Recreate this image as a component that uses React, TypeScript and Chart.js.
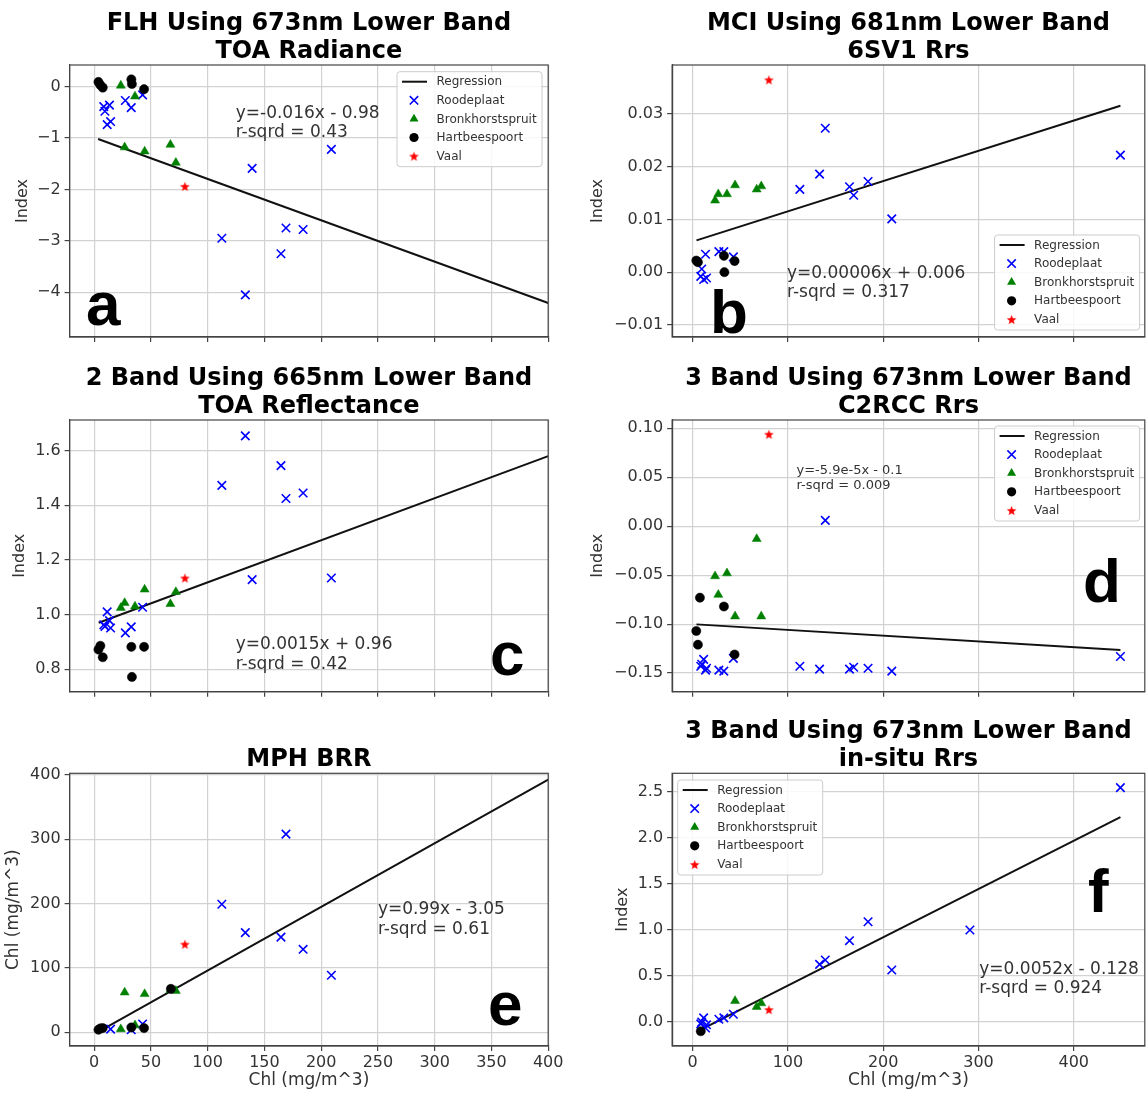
import React, { useEffect, useRef } from 'react';
import { Chart, registerables } from 'chart.js';

Chart.register(...registerables);

type Pt = [number, number];

// ---------- a: FLH, 673nm lower band, TOA radiance ----------
const aRoodeplaat: Pt[] = [
  [8.5, -0.39], [9.5, -0.48], [11.5, -0.74], [13.5, -0.36], [14.5, -0.68], [27.5, -0.27],
  [32.7, -0.41], [42.7, -0.16], [112.5, -2.95], [133.2, -4.05], [139.2, -1.59], [164.6, -3.25],
  [169, -2.75], [184.1, -2.78], [209, -1.22],
];
const aBronkhorstspruit: Pt[] = [[23.5, 0.02], [26.9, -1.18], [36, -0.19], [44.5, -1.26], [67.2, -1.13], [72, -1.48]];
const aHartbeespoort: Pt[] = [[3.8, 0.09], [5.5, 0.03], [7.6, -0.02], [32.8, 0.14], [33.3, 0.05], [44, -0.05]];
const aVaal: Pt[] = [[80, -1.94]];
const aRegression: Pt[] = [[3.5, -1.02], [400, -4.21]];
const aEquation = ['y=-0.016x - 0.98', 'r-sqrd = 0.43'];
const aYTicks = [-4, -3, -2, -1, 0];

// ---------- b: MCI, 681nm lower band, 6SV1 Rrs ----------
const bRoodeplaat: Pt[] = [
  [8.5, -0.0008], [9.5, 0.0006], [11.5, -0.0014], [13.5, 0.0034], [14.5, -0.0011], [27.5, 0.0039],
  [32.7, 0.0039], [42.7, 0.0029], [112.5, 0.0157], [133.2, 0.0186], [139.2, 0.0273], [164.6, 0.0162],
  [169, 0.0146], [184.1, 0.0172], [209, 0.0101], [449, 0.0222],
];
const bBronkhorstspruit: Pt[] = [[23.5, 0.0136], [26.9, 0.0148], [36, 0.0148], [44.5, 0.0165], [67.2, 0.0157], [72, 0.0163]];
const bHartbeespoort: Pt[] = [[3.8, 0.0022], [5.5, 0.0019], [32.8, 0.0031], [33.3, 0.0], [44, 0.0021]];
const bVaal: Pt[] = [[80, 0.0365]];
const bFit = [0.0000574, 0.0058, 4, 449]; // slope, intercept, x from, x to
const bEquation = ['y=0.00006x + 0.006', 'r-sqrd = 0.317'];
const bYTicks = [-0.01, 0, 0.01, 0.02, 0.03];

// ---------- c: 2 band, 665nm lower band, TOA reflectance ----------
const cRoodeplaat: Pt[] = [
  [8.5, 0.963], [9.5, 0.957], [11.5, 1.01], [13.5, 0.978], [14.5, 0.951], [27.5, 0.933],
  [32.7, 0.955], [42.7, 1.027], [112.5, 1.473], [133.2, 1.654], [139.2, 1.128], [164.6, 1.545],
  [169, 1.425], [184.1, 1.445], [209, 1.134],
];
const cBronkhorstspruit: Pt[] = [[23.5, 1.025], [26.9, 1.043], [36, 1.03], [44.5, 1.092], [67.2, 1.039], [72, 1.083]];
const cHartbeespoort: Pt[] = [[3.8, 0.872], [5.5, 0.886], [7.6, 0.844], [32.8, 0.882], [33.3, 0.772], [44, 0.882]];
const cVaal: Pt[] = [[80, 1.134]];
const cFit = [0.00154, 0.964, 4, 400];
const cEquation = ['y=0.0015x + 0.96', 'r-sqrd = 0.42'];
const cYTicks = [0.8, 1.0, 1.2, 1.4, 1.6];

// ---------- d: 3 band, 673nm lower band, C2RCC Rrs ----------
const dRoodeplaat: Pt[] = [
  [8.5, -0.143], [9.5, -0.141], [11.5, -0.136], [13.5, -0.147], [14.5, -0.145], [27.5, -0.147],
  [32.7, -0.148], [42.7, -0.135], [112.5, -0.143], [133.2, -0.146], [139.2, 0.006], [164.6, -0.146],
  [169, -0.144], [184.1, -0.145], [209, -0.148], [449, -0.133],
];
const dBronkhorstspruit: Pt[] = [[23.5, -0.051], [26.9, -0.07], [36, -0.048], [44.5, -0.092], [67.2, -0.013], [72, -0.092]];
const dHartbeespoort: Pt[] = [[3.8, -0.107], [5.5, -0.121], [7.6, -0.073], [32.8, -0.082], [44, -0.131]];
const dVaal: Pt[] = [[80, 0.094]];
const dFit = [-0.000059, -0.1, 4, 449];
const dEquation = ['y=-5.9e-5x - 0.1', 'r-sqrd = 0.009'];
const dYTicks = [-0.15, -0.1, -0.05, 0, 0.05, 0.1];

// ---------- e: MPH, BRR ----------
const eRoodeplaat: Pt[] = [
  [14.5, 5], [32.7, 4], [42.7, 13], [112.5, 199], [133.2, 155], [164.6, 148], [169, 308],
  [184.1, 129], [209, 88.6],
];
const eBronkhorstspruit: Pt[] = [[23.5, 5], [26.9, 62], [36, 11], [44.5, 59.5], [67.2, 66], [72, 64.5]];
const eHartbeespoort: Pt[] = [[3.8, 4], [5.5, 6], [7.6, 6.5], [32.8, 7.5], [44, 6.5], [67.6, 67.5]];
const eVaal: Pt[] = [[80, 137]];
const eFit = [0.99, -3.05, 4, 400];
const eEquation = ['y=0.99x - 3.05', 'r-sqrd = 0.61'];
const eYTicks = [0, 100, 200, 300, 400];

// ---------- f: 3 band, 673nm lower band, in-situ Rrs ----------
const fRoodeplaat: Pt[] = [
  [8.5, -0.02], [9.5, 0.0], [11.5, 0.045], [13.5, -0.065], [14.5, -0.03], [27.5, 0.03],
  [32.7, 0.045], [42.7, 0.085], [133.2, 0.626], [139.2, 0.673], [164.6, 0.883], [184.1, 1.089],
  [209, 0.565], [291, 0.999], [449, 2.544],
];
const fBronkhorstspruit: Pt[] = [[44.5, 0.23], [67.2, 0.165], [72, 0.205]];
const fHartbeespoort: Pt[] = [[8.5, -0.1]];
const fVaal: Pt[] = [[80, 0.135]];
const fFit = [0.00524, -0.128, 5, 449];
const fEquation = ['y=0.0052x - 0.128', 'r-sqrd = 0.924'];
const fYTicks = [0, 0.5, 1.0, 1.5, 2.0, 2.5];

// shared x axes (in-situ chlorophyll)
const chlTicksLeft = [0, 50, 100, 150, 200, 250, 300, 350, 400];
const chlTicksRight = [0, 100, 200, 300, 400];
const legendLabels = ['Regression', 'Roodeplaat', 'Bronkhorstspruit', 'Hartbeespoort', 'Vaal'];

// ---------- styling ----------
const FONT = '"DejaVu Sans", sans-serif';
const TEXT = '#333333';
const TICK = '#333333';
const GRID = '#d2d2d2';
const FRAME = '#444444';
const BLUE = '#0000ff';
const GREEN = '#008000';
const RED = '#ff0000';

const fitLine = (f: number[]): Pt[] => [
  [f[2], f[0] * f[2] + f[1]],
  [f[3], f[0] * f[3] + f[1]],
];

interface Col { canvasX: number; canvasW: number; plotL: number; plotR: number; yAxisW: number; xLim: [number, number]; xTicks: number[] }
interface Row { canvasY: number; canvasH: number; plotT: number; plotB: number; xAxisH: number }

// left canvases run a little wider so the last x tick label is not cut off
const LEFT: Col = { canvasX: 0, canvasW: 578, plotL: 69.6, plotR: 548.2, yAxisW: 60, xLim: [-21.6, 400], xTicks: chlTicksLeft };
const RIGHT: Col = { canvasX: 560, canvasW: 586, plotL: 112.1, plotR: 584.8, yAxisW: 100, xLim: [-21.6, 474.6], xTicks: chlTicksRight };
const ROW1: Row = { canvasY: 0, canvasH: 355, plotT: 65, plotB: 337, xAxisH: 10 };
const ROW2: Row = { canvasY: 355, canvasH: 355, plotT: 65, plotB: 336.7, xAxisH: 10 };
const ROW3: Row = { canvasY: 710, canvasH: 385, plotT: 63.3, plotB: 336, xAxisH: 34 };

interface Panel {
  key: string; col: Col; row: Row;
  title: string[]; titleBase: number[];
  roode: Pt[]; bronk: Pt[]; hart: Pt[]; vaal: Pt[]; fit: Pt[];
  yLim: [number, number]; yTicks: number[]; yDigits: number;
  xLabels: boolean; xTitle?: string;
  yTitle: string; yTitleX: number; yTitleSize: number;
  eq: string[]; eqPos: [number, number]; eqSize: number;
  letter: string; letterPos: [number, number];
  legendPos?: [number, number];
}

const panels: Panel[] = [
  {
    key: 'a', col: LEFT, row: ROW1, title: ['FLH Using 673nm Lower Band', 'TOA Radiance'], titleBase: [29.5, 58],
    roode: aRoodeplaat, bronk: aBronkhorstspruit, hart: aHartbeespoort, vaal: aVaal, fit: aRegression,
    yLim: [-4.87, 0.42], yTicks: aYTicks, yDigits: 0, xLabels: false,
    yTitle: 'Index', yTitleX: 23.2, yTitleSize: 16,
    eq: aEquation, eqPos: [235.7, 113.3], eqSize: 17,
    letter: 'a', letterPos: [86, 325], legendPos: [397, 71.7],
  },
  {
    key: 'b', col: RIGHT, row: ROW1, title: ['MCI Using 681nm Lower Band', '6SV1 Rrs'], titleBase: [29.5, 58],
    roode: bRoodeplaat, bronk: bBronkhorstspruit, hart: bHartbeespoort, vaal: bVaal, fit: fitLine(bFit),
    yLim: [-0.0123, 0.0393], yTicks: bYTicks, yDigits: 2, xLabels: false,
    yTitle: 'Index', yTitleX: 37.4, yTitleSize: 16,
    eq: bEquation, eqPos: [227, 273.3], eqSize: 17,
    letter: 'b', letterPos: [150, 333], legendPos: [434.6, 235],
  },
  {
    key: 'c', col: LEFT, row: ROW2, title: ['2 Band Using 665nm Lower Band', 'TOA Reflectance'], titleBase: [29.5, 57.5],
    roode: cRoodeplaat, bronk: cBronkhorstspruit, hart: cHartbeespoort, vaal: cVaal, fit: fitLine(cFit),
    yLim: [0.718, 1.712], yTicks: cYTicks, yDigits: 1, xLabels: false,
    yTitle: 'Index', yTitleX: 19.6, yTitleSize: 16,
    eq: cEquation, eqPos: [235.7, 290], eqSize: 17,
    letter: 'c', letterPos: [490, 320],
  },
  {
    key: 'd', col: RIGHT, row: ROW2, title: ['3 Band Using 673nm Lower Band', 'C2RCC Rrs'], titleBase: [29.5, 57.5],
    roode: dRoodeplaat, bronk: dBronkhorstspruit, hart: dHartbeespoort, vaal: dVaal, fit: fitLine(dFit),
    yLim: [-0.169, 0.1085], yTicks: dYTicks, yDigits: 2, xLabels: false,
    yTitle: 'Index', yTitleX: 37.4, yTitleSize: 16,
    eq: dEquation, eqPos: [236.5, 116], eqSize: 13,
    letter: 'd', letterPos: [523, 246.7], legendPos: [434.6, 71],
  },
  {
    key: 'e', col: LEFT, row: ROW3, title: ['MPH BRR'], titleBase: [56],
    roode: eRoodeplaat, bronk: eBronkhorstspruit, hart: eHartbeespoort, vaal: eVaal, fit: fitLine(eFit),
    yLim: [-21.3, 402.6], yTicks: eYTicks, yDigits: 0, xLabels: true, xTitle: 'Chl (mg/m^3)',
    yTitle: 'Chl (mg/m^3)', yTitleX: 13.6, yTitleSize: 17,
    eq: eEquation, eqPos: [377.9, 200], eqSize: 17,
    letter: 'e', letterPos: [488, 315],
  },
  {
    key: 'f', col: RIGHT, row: ROW3, title: ['3 Band Using 673nm Lower Band', 'in-situ Rrs'], titleBase: [28, 56],
    roode: fRoodeplaat, bronk: fBronkhorstspruit, hart: fHartbeespoort, vaal: fVaal, fit: fitLine(fFit),
    yLim: [-0.26, 2.7], yTicks: fYTicks, yDigits: 1, xLabels: true, xTitle: 'Chl (mg/m^3)',
    yTitle: 'Index', yTitleX: 62.8, yTitleSize: 16,
    eq: fEquation, eqPos: [419.3, 259.3], eqSize: 17,
    letter: 'f', letterPos: [528, 201.7], legendPos: [117.7, 70],
  },
];

const fmt = (v: number, d: number) => {
  const s = (Math.abs(v) < 1e-12 ? 0 : v).toFixed(d);
  return s.startsWith('-') ? '\u2212' + s.slice(1) : s;
};

function makeStar(color: string, size: number) {
  const c = document.createElement('canvas');
  c.width = size;
  c.height = size;
  const g = c.getContext('2d')!;
  const R = size / 2 - 0.4;
  const r = R * 0.42;
  const cx = size / 2;
  const cy = size / 2 + 0.5;
  g.beginPath();
  for (let i = 0; i < 10; i++) {
    const ang = -Math.PI / 2 + (i * Math.PI) / 5;
    const rad = i % 2 === 0 ? R : r;
    g.lineTo(cx + rad * Math.cos(ang), cy + rad * Math.sin(ang));
  }
  g.closePath();
  g.fillStyle = color;
  g.fill();
  return c;
}

function drawMarker(ctx: CanvasRenderingContext2D, i: number, x: number, y: number, star: HTMLCanvasElement) {
  ctx.save();
  if (i === 1) {
    const h = 4.2;
    ctx.strokeStyle = BLUE;
    ctx.lineWidth = 1.6;
    ctx.beginPath();
    ctx.moveTo(x - h, y - h); ctx.lineTo(x + h, y + h);
    ctx.moveTo(x - h, y + h); ctx.lineTo(x + h, y - h);
    ctx.stroke();
  } else if (i === 2) {
    const r = 5.2;
    ctx.fillStyle = GREEN;
    ctx.beginPath();
    ctx.moveTo(x, y - r);
    ctx.lineTo(x - r * 0.866, y + r / 2);
    ctx.lineTo(x + r * 0.866, y + r / 2);
    ctx.closePath();
    ctx.fill();
  } else if (i === 3) {
    ctx.fillStyle = '#000';
    ctx.beginPath();
    ctx.arc(x, y, 4.6, 0, Math.PI * 2);
    ctx.fill();
  } else if (i === 4) {
    ctx.drawImage(star, x - star.width / 2, y - star.height / 2);
  }
  ctx.restore();
}

function drawLegend(ctx: CanvasRenderingContext2D, x: number, y: number, star: HTMLCanvasElement) {
  const w = 145;
  const h = 95;
  ctx.save();
  ctx.beginPath();
  if ((ctx as any).roundRect) (ctx as any).roundRect(x, y, w, h, 3);
  else ctx.rect(x, y, w, h);
  ctx.fillStyle = 'rgba(255,255,255,0.85)';
  ctx.fill();
  ctx.strokeStyle = '#cccccc';
  ctx.lineWidth = 1;
  ctx.stroke();
  ctx.font = `12px ${FONT}`;
  ctx.textAlign = 'left';
  ctx.textBaseline = 'middle';
  legendLabels.forEach((name, i) => {
    const ry = y + 10 + i * 18.6;
    if (i === 0) {
      ctx.strokeStyle = '#111';
      ctx.lineWidth = 2;
      ctx.beginPath();
      ctx.moveTo(x + 5, ry);
      ctx.lineTo(x + 30, ry);
      ctx.stroke();
    } else {
      drawMarker(ctx, i, x + 17, ry, star);
    }
    ctx.fillStyle = TEXT;
    ctx.fillText(name, x + 39.5, ry + 0.5);
  });
  ctx.restore();
}

function decor(p: Panel, star: HTMLCanvasElement) {
  return {
    id: 'decor',
    afterDraw(chart: any) {
      const ctx: CanvasRenderingContext2D = chart.ctx;
      const a = chart.chartArea;
      const cx = (a.left + a.right) / 2;
      ctx.save();
      ctx.strokeStyle = FRAME;
      ctx.lineWidth = 1.2;
      ctx.strokeRect(a.left, a.top, a.right - a.left, a.bottom - a.top);

      ctx.fillStyle = '#000';
      ctx.textAlign = 'center';
      ctx.textBaseline = 'alphabetic';
      ctx.font = `bold 24px ${FONT}`;
      p.title.forEach((t, i) => ctx.fillText(t, cx, p.titleBase[i]));

      ctx.save();
      ctx.translate(p.yTitleX, (a.top + a.bottom) / 2);
      ctx.rotate(-Math.PI / 2);
      ctx.font = `${p.yTitleSize}px ${FONT}`;
      ctx.fillStyle = TEXT;
      ctx.textAlign = 'center';
      ctx.textBaseline = 'middle';
      ctx.fillText(p.yTitle, 0, 0);
      ctx.restore();

      if (p.xTitle) {
        ctx.font = `17px ${FONT}`;
        ctx.fillStyle = TEXT;
        ctx.textAlign = 'center';
        ctx.textBaseline = 'alphabetic';
        ctx.fillText(p.xTitle, cx, 375);
      }

      ctx.font = `${p.eqSize}px ${FONT}`;
      ctx.fillStyle = TEXT;
      ctx.textAlign = 'left';
      ctx.textBaseline = 'middle';
      p.eq.forEach((t, i) => ctx.fillText(t, p.eqPos[0], p.eqPos[1] + i * p.eqSize * 1.14));

      ctx.font = 'bold 62px "Liberation Sans", Arial, sans-serif';
      ctx.fillStyle = '#000';
      ctx.textBaseline = 'alphabetic';
      ctx.fillText(p.letter, p.letterPos[0], p.letterPos[1]);

      if (p.legendPos) drawLegend(ctx, p.legendPos[0], p.legendPos[1], star);
      ctx.restore();
    },
  };
}

const toXY = (pts: Pt[]) => pts.map(([x, y]) => ({ x, y }));

// keep the plot box exactly where the layout puts it: no extra room for edge labels
const noEdgePadding = (s: any) => {
  s.paddingLeft = 0;
  s.paddingRight = 0;
  s.paddingTop = 0;
  s.paddingBottom = 0;
};

function buildConfig(p: Panel, star: HTMLCanvasElement): any {
  const { col, row } = p;
  const tickFont = { family: FONT, size: 16 };
  const grid = { color: GRID, lineWidth: 1.2, tickLength: 5, tickColor: FRAME, tickWidth: 1.2, drawTicks: true };
  const border = { display: true, color: FRAME, width: 1.2 };
  return {
    type: 'scatter',
    data: {
      datasets: [
        { type: 'line', label: 'Regression', data: toXY(p.fit), borderColor: '#111', borderWidth: 2, pointRadius: 0, fill: false, tension: 0, order: 5 },
        { label: 'Roodeplaat', data: toXY(p.roode), pointStyle: 'crossRot', pointRadius: 6, borderColor: BLUE, backgroundColor: BLUE, pointBorderWidth: 1.6, order: 4 },
        { label: 'Bronkhorstspruit', data: toXY(p.bronk), pointStyle: 'triangle', pointRadius: 5.2, borderColor: GREEN, backgroundColor: GREEN, pointBorderWidth: 0.5, order: 3 },
        { label: 'Hartbeespoort', data: toXY(p.hart), pointStyle: 'circle', pointRadius: 4.6, borderColor: '#000', backgroundColor: '#000', pointBorderWidth: 0.5, order: 2 },
        { label: 'Vaal', data: toXY(p.vaal), pointStyle: star, pointRadius: 5, borderColor: RED, backgroundColor: RED, order: 1 },
      ],
    },
    options: {
      responsive: false,
      animation: false,
      events: [],
      devicePixelRatio: 1,
      layout: {
        autoPadding: false,
        padding: {
          left: col.plotL - col.yAxisW,
          right: col.canvasW - col.plotR,
          top: row.plotT,
          bottom: row.canvasH - row.plotB - row.xAxisH,
        },
      },
      plugins: { legend: { display: false }, tooltip: { enabled: false }, title: { display: false } },
      scales: {
        x: {
          type: 'linear',
          position: 'bottom',
          min: col.xLim[0],
          max: col.xLim[1],
          afterBuildTicks: (s: any) => { s.ticks = col.xTicks.map((v) => ({ value: v })); },
          afterFit: (s: any) => { s.height = row.xAxisH; noEdgePadding(s); },
          ticks: {
            autoSkip: false,
            maxRotation: 0,
            padding: 2,
            font: tickFont,
            color: TICK,
            callback: (v: number) => (p.xLabels ? fmt(v, 0) : ''),
          },
          grid,
          border,
        },
        y: {
          type: 'linear',
          position: 'left',
          min: p.yLim[0],
          max: p.yLim[1],
          afterBuildTicks: (s: any) => { s.ticks = p.yTicks.map((v) => ({ value: v })); },
          afterFit: (s: any) => { s.width = col.yAxisW; noEdgePadding(s); },
          ticks: {
            autoSkip: false,
            padding: 4,
            font: tickFont,
            color: TICK,
            callback: (v: number) => fmt(v, p.yDigits),
          },
          grid,
          border,
        },
      },
    },
    plugins: [decor(p, star)],
  };
}

function PanelChart({ p }: { p: Panel }) {
  const ref = useRef<HTMLCanvasElement>(null);
  useEffect(() => {
    const star = makeStar(RED, 11);
    const chart = new Chart(ref.current as HTMLCanvasElement, buildConfig(p, star));
    return () => chart.destroy();
  }, [p]);
  return (
    <canvas
      ref={ref}
      width={p.col.canvasW}
      height={p.row.canvasH}
      style={{
        position: 'absolute',
        left: p.col.canvasX,
        top: p.row.canvasY,
        width: p.col.canvasW,
        height: p.row.canvasH,
        display: 'block',
      }}
    />
  );
}

export default function App() {
  return (
    <div style={{ position: 'absolute', left: 0, top: 0, width: 1146, height: 1095, background: '#ffffff', overflow: 'hidden' }}>
      {panels.map((p) => (
        <PanelChart key={p.key} p={p} />
      ))}
    </div>
  );
}
